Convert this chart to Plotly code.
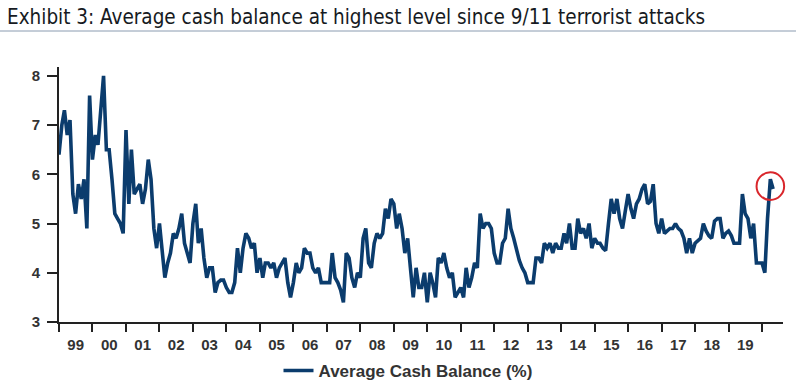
import plotly.graph_objects as go
import pandas as pd

# ---- data (monthly, % of AUM) ----
cash_1999 = [6.4, 7.0, 7.3, 6.8, 7.1, 5.6, 5.2, 5.8, 5.5, 5.9, 4.9, 7.6]
cash_2000 = [6.3, 6.8, 6.6, 7.3, 8.0, 6.5, 6.5, 5.9, 5.2, 5.1, 5.0, 4.8]
cash_2001 = [6.9, 5.4, 6.5, 5.6, 5.7, 5.8, 5.4, 5.7, 6.3, 5.9, 4.9, 4.5]
cash_2002 = [5.0, 4.4, 3.9, 4.2, 4.4, 4.8, 4.7, 4.9, 5.2, 4.6, 4.4, 4.2]
cash_2003 = [5.0, 5.4, 4.6, 4.9, 4.3, 3.9, 4.1, 4.1, 3.6, 3.8, 3.85, 3.85]
cash_2004 = [3.7, 3.6, 3.6, 3.8, 4.5, 4.0, 4.5, 4.8, 4.7, 4.5, 4.6, 4.0]
cash_2005 = [4.3, 3.9, 4.2, 4.2, 4.1, 4.2, 3.9, 4.1, 4.2, 4.3, 3.8, 3.5]
cash_2006 = [3.8, 4.2, 4.0, 4.1, 4.5, 4.4, 4.4, 4.1, 4.0, 4.1, 3.8, 3.8]
cash_2007 = [3.8, 3.8, 4.4, 3.9, 3.8, 3.65, 3.4, 4.4, 4.3, 3.9, 3.7, 4.0]
cash_2008 = [3.9, 4.7, 4.9, 4.2, 4.1, 4.6, 4.8, 4.7, 4.8, 5.3, 5.1, 5.5]
cash_2009 = [5.4, 4.9, 5.2, 4.9, 4.4, 4.7, 4.1, 3.5, 4.1, 3.7, 3.7, 4.0]
cash_2010 = [3.4, 4.0, 3.8, 3.5, 4.3, 4.2, 4.4, 4.1, 3.9, 4.0, 3.5, 3.6]
cash_2011 = [3.7, 3.5, 4.1, 3.7, 3.9, 4.2, 4.1, 5.2, 4.9, 5.0, 5.0, 4.9]
cash_2012 = [4.4, 4.2, 4.2, 4.6, 4.7, 5.3, 4.9, 4.7, 4.45, 4.25, 4.1, 4.0]
cash_2013 = [3.8, 3.8, 3.8, 4.3, 4.3, 4.2, 4.6, 4.5, 4.6, 4.4, 4.6, 4.5]
cash_2014 = [4.5, 4.8, 4.6, 5.0, 4.5, 4.5, 5.1, 4.8, 4.9, 4.7, 5.0, 4.5]
cash_2015 = [4.7, 4.6, 4.6, 4.5, 4.45, 5.0, 5.5, 5.2, 5.5, 5.1, 4.9, 5.25]
cash_2016 = [5.6, 5.3, 5.1, 5.4, 5.5, 5.7, 5.8, 5.4, 5.45, 5.8, 5.0, 4.8]
cash_2017 = [5.1, 4.8, 4.85, 4.9, 4.9, 5.0, 4.9, 4.85, 4.7, 4.4, 4.7, 4.4]
cash_2018 = [4.6, 4.65, 4.7, 5.0, 4.85, 4.75, 4.7, 5.05, 5.1, 5.1, 4.7, 4.8]
cash_2019 = [4.85, 4.75, 4.6, 4.6, 4.6, 5.6, 5.2, 5.1, 4.7, 5.0, 4.2, 4.2]
cash_2020 = [4.2, 4.0, 5.1, 5.9, 5.7]

cash_balance = (cash_1999 + cash_2000 + cash_2001 + cash_2002 + cash_2003 +
                cash_2004 + cash_2005 + cash_2006 + cash_2007 + cash_2008 +
                cash_2009 + cash_2010 + cash_2011 + cash_2012 + cash_2013 +
                cash_2014 + cash_2015 + cash_2016 + cash_2017 + cash_2018 +
                cash_2019 + cash_2020)
months = pd.date_range("1999-01-01", periods=len(cash_balance), freq="MS")

tick_years = list(range(1999, 2020))
tick_labels = ["99", "00", "01", "02", "03", "04", "05", "06", "07", "08", "09",
               "10", "11", "12", "13", "14", "15", "16", "17", "18", "19"]
y_ticks = [3, 4, 5, 6, 7, 8]

series_name = "Average Cash Balance (%)"
title_text = "Exhibit 3: Average cash balance at highest level since 9/11 terrorist attacks"

# ---- layout geometry ----
W, H = 796, 387
ML, MR, MT, MB = 59, 13, 67, 65
x_lo, x_hi = pd.Timestamp("1999-01-01"), pd.Timestamp("2020-08-17")
y_lo, y_hi = 3, 8.18

line_color = "#0b3c6d"
axis_color = "#222222"
label_color = "#333333"

fig = go.Figure()
fig.add_trace(go.Scatter(
    x=months, y=cash_balance, mode="lines", name=series_name,
    line=dict(color=line_color, width=3.6),
))

# red circle around the latest (2020) peak, computed from data
last_peak = max(range(len(cash_2020)), key=lambda i: cash_2020[i])
peak_i = len(cash_balance) - len(cash_2020) + last_peak
peak_date, peak_val = months[peak_i], cash_balance[peak_i]
pw, ph = W - ML - MR, H - MT - MB
cx = (peak_date - x_lo) / (x_hi - x_lo)
cy = (peak_val - 0.14 - y_lo) / (y_hi - y_lo)
r = 13.8
fig.add_shape(type="circle", xref="paper", yref="paper",
              x0=cx - r / pw, x1=cx + r / pw, y0=cy - r / ph, y1=cy + r / ph,
              line=dict(color="#d9262b", width=2))

# rule under title
fig.add_shape(type="line", xref="paper", yref="paper",
              x0=-ML / pw, x1=(W - ML) / pw, y0=(H - MB - 31) / ph, y1=(H - MB - 31) / ph,
              line=dict(color="#8a9bb0", width=1))

fig.add_annotation(text=title_text, xref="paper", yref="paper",
                   x=(5 - ML) / pw, y=(H - MB - 17) / ph, xanchor="left", yanchor="middle",
                   showarrow=False,
                   font=dict(family="DejaVu Sans Condensed, DejaVu Sans, sans-serif",
                             size=20.5, color="#161a22"))

fig.update_layout(
    width=W, height=H,
    margin=dict(l=ML, r=MR, t=MT, b=MB, autoexpand=False),
    paper_bgcolor="white", plot_bgcolor="white",
    showlegend=True,
    legend=dict(orientation="h", x=(408 - ML) / pw, xanchor="center",
                y=(H - MB - 371) / ph, yanchor="middle",
                font=dict(family="Liberation Sans, Arial, sans-serif", size=17,
                          color=label_color, weight="bold"),
                bgcolor="rgba(0,0,0,0)"),
    xaxis=dict(
        type="date", range=[x_lo, x_hi],
        tickmode="array",
        tickvals=[pd.Timestamp(f"{y}-07-02") for y in tick_years],
        ticktext=tick_labels,
        ticks="outside", ticklen=8, tickcolor="rgba(0,0,0,0)",
        minor=dict(tickmode="array",
                   tickvals=[pd.Timestamp(f"{y}-01-01") for y in range(1999, 2021)],
                   ticks="outside", ticklen=8, tickwidth=1.5, tickcolor=axis_color,
                   showgrid=False),
        showline=True, linecolor=axis_color, linewidth=2,
        showgrid=False, zeroline=False, automargin=False,
        tickfont=dict(family="Liberation Sans, Arial, sans-serif", size=15,
                      color=label_color, weight="bold"),
    ),
    yaxis=dict(
        range=[y_lo, y_hi], tickvals=y_ticks,
        ticks="outside", ticklen=10, tickwidth=1.5, tickcolor=axis_color,
        showline=True, linecolor=axis_color, linewidth=2,
        showgrid=False, zeroline=False, automargin=False,
        ticklabelstandoff=4,
        tickfont=dict(family="Liberation Sans, Arial, sans-serif", size=15,
                      color=label_color, weight="bold"),
    ),
)

# remove the default page margin so the figure sits at the window's origin
fig.write_html("out.html",
               config={"displayModeBar": False},
               post_script="document.body.style.margin='0';document.body.style.overflow='hidden';")
